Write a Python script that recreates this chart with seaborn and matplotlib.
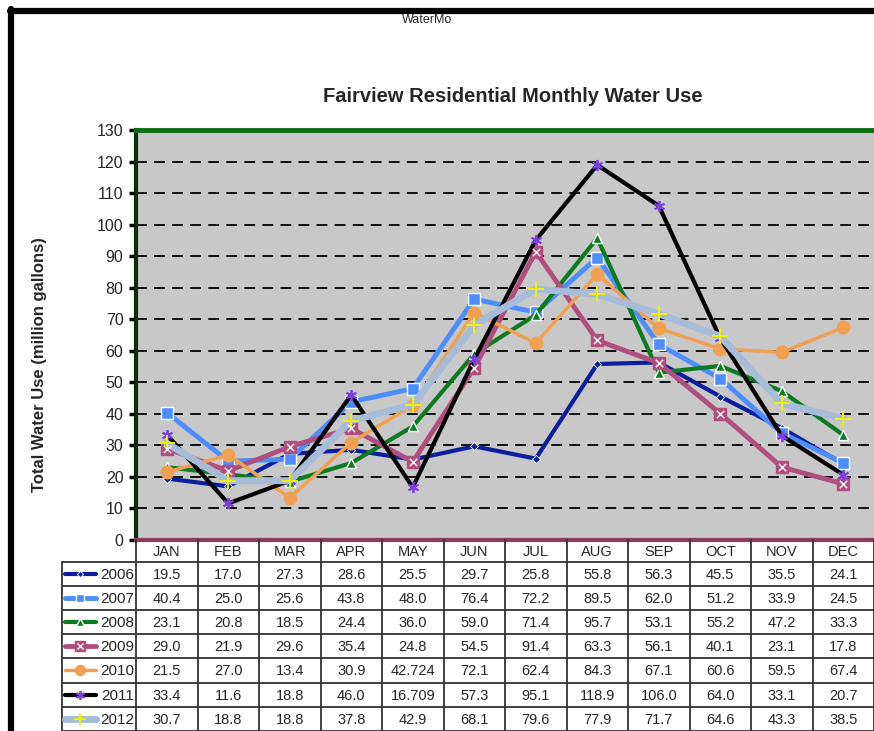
import numpy as np
import pandas as pd
import matplotlib.pyplot as plt
from matplotlib.lines import Line2D
import seaborn as sns

sns.set_theme(style="white")
plt.rcParams['font.family'] = ['Liberation Sans', 'DejaVu Sans']

months = ['JAN', 'FEB', 'MAR', 'APR', 'MAY', 'JUN', 'JUL', 'AUG', 'SEP', 'OCT', 'NOV', 'DEC']
years = ['2006', '2007', '2008', '2009', '2010', '2011', '2012']

use_2006 = [19.5, 17.0, 27.3, 28.6, 25.5, 29.7, 25.8, 55.8, 56.3, 45.5, 35.5, 24.1]
use_2007 = [40.4, 25.0, 25.6, 43.8, 48.0, 76.4, 72.2, 89.5, 62.0, 51.2, 33.9, 24.5]
use_2008 = [23.1, 20.8, 18.5, 24.4, 36.0, 59.0, 71.4, 95.7, 53.1, 55.2, 47.2, 33.3]
use_2009 = [29.0, 21.9, 29.6, 35.4, 24.8, 54.5, 91.4, 63.3, 56.1, 40.1, 23.1, 17.8]
use_2010 = [21.5, 27.0, 13.4, 30.9, 42.724, 72.1, 62.4, 84.3, 67.1, 60.6, 59.5, 67.4]
use_2011 = [33.4, 11.6, 18.8, 46.0, 16.709, 57.3, 95.1, 118.9, 106.0, 64.0, 33.1, 20.7]
use_2012 = [30.7, 18.8, 18.8, 37.8, 42.9, 68.1, 79.6, 77.9, 71.7, 64.6, 43.3, 38.5]

series = [use_2006, use_2007, use_2008, use_2009, use_2010, use_2011, use_2012]

# line styling per year
styles = {
    '2006': dict(color='#0b1f9e', lw=3.0, marker='D', ms=4, mfc='#0b1f9e', mec='white', mew=0.6),
    '2007': dict(color='#4c8dff', lw=3.5, marker='s', ms=8, mfc='#4c8dff', mec='white', mew=1.0),
    '2008': dict(color='#0c7a1e', lw=3.0, marker='^', ms=7, mfc='#0c7a1e', mec='white', mew=1.0),
    '2009': dict(color='#b04e7e', lw=3.5, marker='s', ms=8.5, mfc='#b04e7e', mec='#b04e7e', mew=1.0),
    '2010': dict(color='#f0a050', lw=2.5, marker='o', ms=9, mfc='#f0a050', mec='#f0a050', mew=1.0),
    '2011': dict(color='black', lw=3.0, marker=(6, 2, 0), ms=8, mfc='#7b3fe4', mec='#7b3fe4', mew=1.3),
    '2012': dict(color='#a7bcd8', lw=5.0, marker='+', ms=11, mfc='#f2f200', mec='#f2f200', mew=1.4),
}

df = pd.DataFrame({'Month': months * len(years),
                   'Year': np.repeat(years, len(months)),
                   'Use': np.concatenate(series)})

W, H = 874, 731
fig = plt.figure(figsize=(W / 100, H / 100), dpi=100)

# main plot area
ax = fig.add_axes([136 / W, 1 - 540 / H, (874 - 136) / W, (540 - 130) / H])
ax.set_facecolor('#c8c8c8')

for yr in years:
    st = styles[yr]
    d = df[df['Year'] == yr]
    sns.lineplot(data=d, x='Month', y='Use', ax=ax, sort=False, legend=False,
                 color=st['color'], lw=st['lw'], marker=st['marker'], markersize=st['ms'],
                 markerfacecolor=st['mfc'], markeredgecolor=st['mec'], markeredgewidth=st['mew'])
    if yr == '2009':
        sns.scatterplot(data=d, x='Month', y='Use', ax=ax, marker='x', s=28,
                        color='white', linewidth=1.0, legend=False, zorder=5)

ax.set_xlim(-0.5, 11.5)
ax.set_ylim(0, 130)
ax.set_yticks(np.arange(0, 131, 10))
ax.set_xticks([])
ax.set_xlabel('')
ax.set_ylabel('')
for yv in np.arange(10, 130, 10):
    ax.axhline(yv, color='black', lw=1.3, ls=(0, (6, 4)), zorder=0.5)
ax.tick_params(axis='y', left=True, length=5, width=2.5, color='black', labelsize=11.5, pad=4)
ax.spines['left'].set_color('#0a2a0a')
ax.spines['left'].set_linewidth(3)
ax.spines['top'].set_color('#0c6e14')
ax.spines['top'].set_linewidth(3.5)
ax.spines['bottom'].set_color('#8b3a62')
ax.spines['bottom'].set_linewidth(3)
ax.spines['right'].set_visible(False)

# data table under the chart
px_unit = (874 - 136) / 12
x_left = -0.5 - (136 - 62) / px_unit
tab = fig.add_axes([62 / W, 0, (874 - 62) / W, (H - 540) / H])
tab.set_xlim(x_left, 11.5)
tab.set_ylim(H - 540, 0)
tab.axis('off')
header_h, row_h = 22, 24.1
row_edges = [header_h + i * row_h for i in range(len(years) + 1)]

for i in range(13):
    tab.plot([i - 0.5, i - 0.5], [0, row_edges[-1]], color='#333333', lw=1.3, clip_on=False)
tab.plot([x_left, x_left], [row_edges[0], row_edges[-1]], color='#333333', lw=1.3, clip_on=False)
for ye in row_edges:
    tab.plot([x_left, 11.5], [ye, ye], color='#333333', lw=1.3, clip_on=False)

for i, m in enumerate(months):
    tab.text(i, header_h / 2 + 1, m, ha='center', va='center', fontsize=10.5)

def fmt(v):
    return f"{v:.1f}" if round(v, 1) == v else f"{v:g}"

for r, (yr, vals) in enumerate(zip(years, series)):
    yc = row_edges[r] + row_h / 2
    for i, v in enumerate(vals):
        tab.text(i, yc + 1, fmt(v), ha='center', va='center', fontsize=10.5)
    st = styles[yr]
    x0, x1 = x_left + 0.05, x_left + 0.55
    tab.plot([x0, x1], [yc, yc], color=st['color'], lw=st['lw'], solid_capstyle='round')
    tab.plot([(x0 + x1) / 2], [yc], marker=st['marker'], ms=st['ms'] * 0.8,
             mfc=st['mfc'], mec=st['mec'], mew=st['mew'], ls='none')
    if yr == '2009':
        tab.plot([(x0 + x1) / 2], [yc], marker='x', ms=5, mec='white', mew=1.0, ls='none')
    tab.text(-0.53, yc + 1, yr, ha='right', va='center', fontsize=11)

# titles and labels
fig.text(513 / W, 1 - 97 / H, 'Fairview Residential Monthly Water Use',
         ha='center', va='center', fontsize=14.5, fontweight='bold')
fig.text(427 / W, 1 - 20 / H, 'WaterMo', ha='center', va='center', fontsize=9)
fig.text(40 / W, 1 - 365 / H, 'Total Water Use (million gallons)', rotation=90,
         ha='center', va='center', fontsize=12, fontweight='bold')

# page frame
fig.add_artist(Line2D([10 / W, 1], [1 - 11 / H, 1 - 11 / H], color='black', lw=4.5))
fig.add_artist(Line2D([11 / W, 11 / W], [0, 1 - 9 / H], color='black', lw=4.5))

fig.savefig('out.png', dpi=100)
